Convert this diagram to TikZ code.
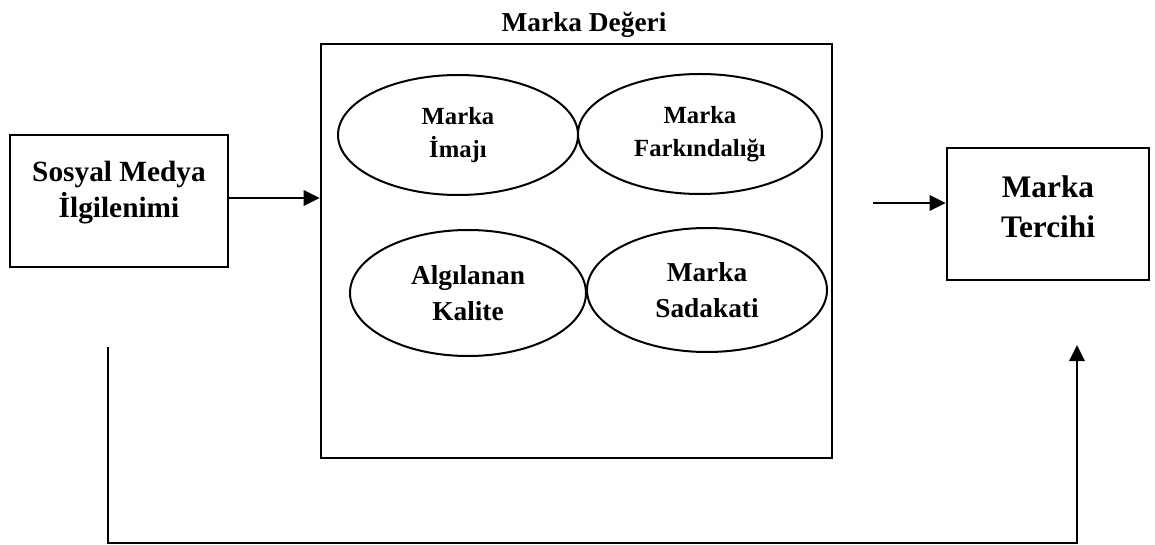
\documentclass[tikz,border=0pt]{standalone}
\usepackage{fontspec}
\setmainfont{Liberation Serif}
\usetikzlibrary{arrows.meta,shapes.geometric}
\begin{document}
\begin{tikzpicture}[x=0.75pt,y=-0.75pt,
  box/.style={draw, line width=2pt, inner sep=0pt},
  oval/.style={draw, ellipse, line width=1.5pt, inner sep=0pt, align=center},
  smallfont/.style={font=\bfseries\fontsize{18.5}{25}\selectfont},
  midfont/.style={font=\bfseries\fontsize{20.5}{27}\selectfont},
  bigfont/.style={font=\bfseries\fontsize{22}{27}\selectfont},
  hugefont/.style={font=\bfseries\fontsize{23.5}{30}\selectfont},
  lbl/.style={align=center, inner sep=0pt},
  arr/.style={line width=1.6pt, -{Triangle[length=12pt,width=11.5pt]}}
]
\useasboundingbox (0,0) rectangle (1155,545);
\fill[white] (0,0) rectangle (1155,545);

% boxes
\node[box, minimum width=163.5pt, minimum height=99pt] (smb) at (119,201) {};
\node[lbl, bigfont] (smbt) at (119,193) {Sosyal Medya\\İlgilenimi};

\node[box, minimum width=383.25pt, minimum height=310.5pt] (md) at (576.5,251) {};
\node[lbl, midfont, anchor=base] (mdt) at (584,32) {Marka Değeri};

\node[box, minimum width=151.5pt, minimum height=99pt] (mt) at (1048,214) {};
\node[lbl, hugefont] (mtt) at (1048,207) {Marka\\Tercihi};

% ellipses
\node[oval, smallfont, minimum width=180pt, minimum height=90pt] (e1) at (458,135) {Marka\\İmajı};
\node[oval, smallfont, minimum width=183pt, minimum height=90pt] (e2) at (700,134) {Marka\\Farkındalığı};
\node[oval, midfont, minimum width=177pt, minimum height=94.5pt] (e3) at (468,293) {Algılanan\\Kalite};
\node[oval, midfont, minimum width=180pt, minimum height=93pt] (e4) at (707,290) {Marka\\Sadakati};

% connectors
\draw[arr] ([yshift=2.25pt]smb.east) -- ([yshift=2.25pt]smb.east -| md.west);
\coordinate (a2s) at (873,203);
\draw[arr] (a2s) -- (a2s -| mt.west);

\coordinate (b1) at (108,347);
\coordinate (bl) at (108,543);
\coordinate (br) at (1077,543);
\coordinate (b2) at (1077,345);
\draw[arr] (b1) -- (bl) -- (br) -- (b2);
\end{tikzpicture}
\end{document}
